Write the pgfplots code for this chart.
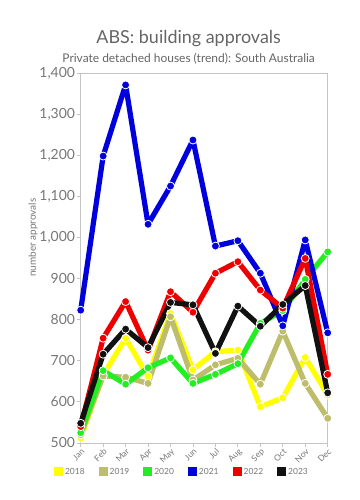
\documentclass[border=0pt]{standalone}
\usepackage{pgfplots}
\pgfplotsset{compat=1.18}
\usepackage{fontspec}
\setmainfont{Lato}
\definecolor{tgray}{HTML}{777777}
\definecolor{agray}{HTML}{C4C4C4}
\definecolor{cy}{HTML}{FFFF00}
\definecolor{co}{HTML}{BDBD6B}
\definecolor{cg}{HTML}{22EE22}
\definecolor{cb}{HTML}{0000DD}
\definecolor{cr}{HTML}{EE0000}
\definecolor{ck}{HTML}{111111}
\begin{document}
\begin{tikzpicture}
\path[use as bounding box] (-80.7bp,-57bp) rectangle (279.3bp,443bp);
\begin{axis}[
  at={(0,0)}, anchor=south west,
  scale only axis, width=247bp, height=370bp,
  xmin=0, xmax=11, ymin=500, ymax=1400,
  xtick={0,...,11},
  xticklabels={Jan,Feb,Mar,Apr,May,Jun,Jul,Aug,Sep,Oct,Nov,Dec},
  x tick label style={rotate=45, anchor=north east, font=\fontsize{8.5}{10}\selectfont, text=tgray, inner sep=0.5bp},
  ytick={500,600,...,1400},
  y tick label style={font=\fontsize{14}{16}\selectfont, text=tgray, inner sep=1.5bp},
  /pgf/number format/1000 sep={,},
  /pgf/number format/assume math mode=true,
  axis line style={agray, line width=0.8bp},
  tick style={agray, line width=0.8bp},
  tick align=outside, major tick length=4bp,
  xtick pos=bottom, ytick pos=left,
  ylabel={number approvals},
  ylabel style={font=\fontsize{10}{12}\selectfont, text=tgray, at={(axis description cs:-0.193,0.555)}, anchor=center},
  clip=false,
  every axis plot/.append style={line width=5.2bp, line join=round},
  legend style={at={(axis description cs:0.41,-0.078)}, anchor=center, draw=none, fill=none, legend columns=6, font=\fontsize{8.5}{10}\selectfont, text=tgray, /tikz/every even column/.append style={column sep=12bp}},
  legend image code/.code={\fill[#1, draw=none] (0bp,-4.5bp) rectangle (9bp,4.5bp);},
]
\addplot[color=cy, mark=*, mark size=4bp, mark options={fill=cy, draw=white, line width=0.8bp}] coordinates {(0,512)(1,665)(2,755)(3,662)(4,815)(5,678)(6,722)(7,726)(8,588)(9,610)(10,708)(11,617)};
\addlegendentry{2018}
\addplot[color=co, mark=*, mark size=4bp, mark options={fill=co, draw=white, line width=0.8bp}] coordinates {(0,520)(1,663)(2,660)(3,645)(4,807)(5,653)(6,690)(7,706)(8,643)(9,772)(10,645)(11,560)};
\addlegendentry{2019}
\addplot[color=cg, mark=*, mark size=4bp, mark options={fill=cg, draw=white, line width=0.8bp}] coordinates {(0,525)(1,676)(2,643)(3,683)(4,707)(5,645)(6,667)(7,693)(8,791)(9,822)(10,898)(11,965)};
\addlegendentry{2020}
\addplot[color=cb, mark=*, mark size=4bp, mark options={fill=cb, draw=white, line width=0.8bp}] coordinates {(0,823)(1,1198)(2,1371)(3,1032)(4,1125)(5,1237)(6,979)(7,992)(8,913)(9,785)(10,994)(11,768)};
\addlegendentry{2021}
\addplot[color=cr, mark=*, mark size=4bp, mark options={fill=cr, draw=white, line width=0.8bp}] coordinates {(0,540)(1,755)(2,844)(3,726)(4,868)(5,818)(6,913)(7,941)(8,872)(9,828)(10,949)(11,667)};
\addlegendentry{2022}
\addplot[color=ck, mark=*, mark size=4bp, mark options={fill=ck, draw=white, line width=0.8bp}] coordinates {(0,548)(1,716)(2,777)(3,732)(4,842)(5,836)(6,718)(7,833)(8,784)(9,837)(10,883)(11,622)};
\addlegendentry{2023}
\node[font=\fontsize{18}{20}\selectfont, text=tgray!85!black] at (axis description cs:0.437,1.092) {ABS: building approvals};
\node[font=\fontsize{12}{14}\selectfont, text=tgray!85!black] at (axis description cs:0.437,1.038) {Private detached houses (trend): South Australia};
\end{axis}
\end{tikzpicture}
\end{document}
